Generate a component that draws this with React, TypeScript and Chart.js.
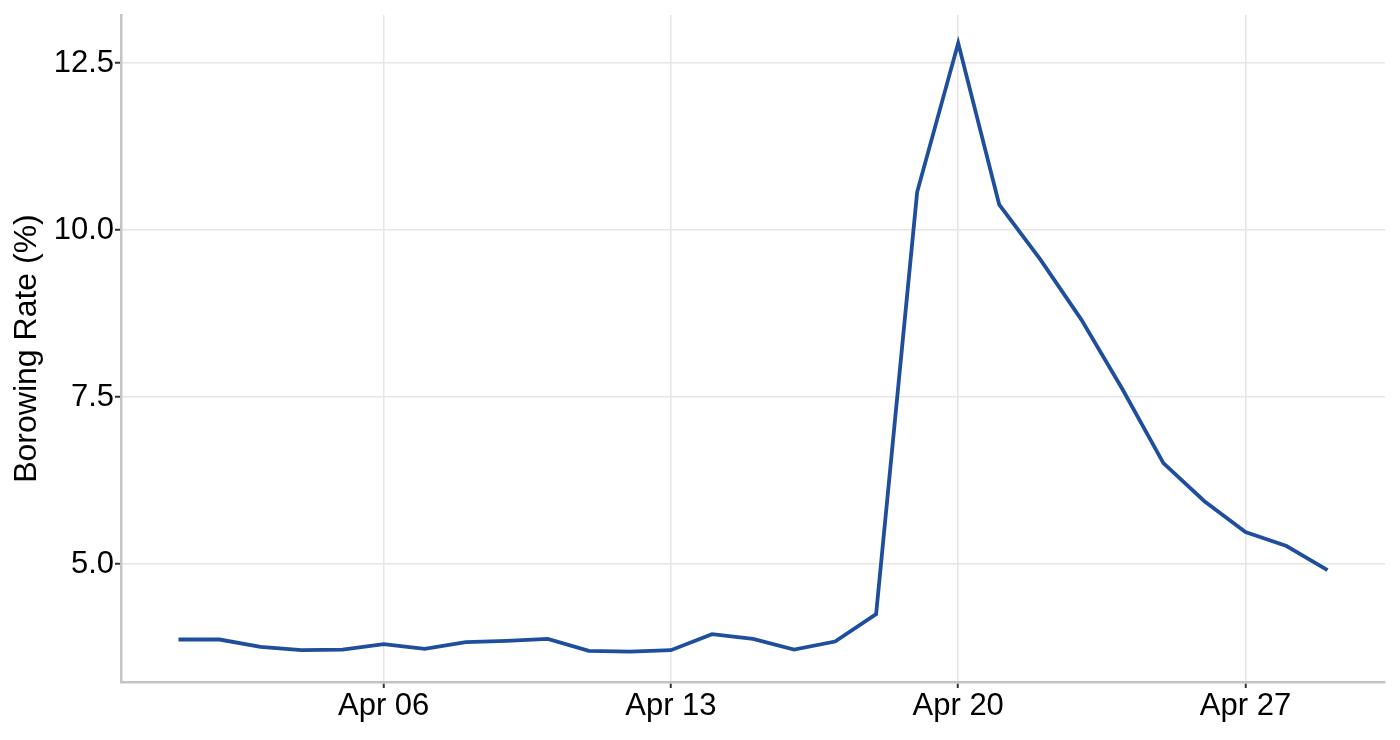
import { useEffect, useRef } from "react";
import Chart from "chart.js/auto";

// Day of month (April) for each observation
const DAYS = [1, 2, 3, 4, 5, 6, 7, 8, 9, 10, 11, 12, 13, 14, 15, 16, 17, 18, 19, 20, 21, 22, 23, 24, 25, 26, 27, 28, 29];
// Borrowing rate (%) per day
const RATES = [
  3.87, 3.87, 3.76, 3.71, 3.72, 3.8, 3.73, 3.83, 3.85, 3.88, 3.7, 3.69, 3.71, 3.95, 3.88, 3.72, 3.84, 4.25,
  10.57, 12.8, 10.38, 9.56, 8.66, 7.62, 6.51, 5.94, 5.48, 5.27, 4.91,
];
const X_TICKS = [6, 13, 20, 27];
const Y_TICKS = [5, 7.5, 10, 12.5];
const MONTH = "Apr";

const FONT = "'Liberation Sans', Arial, Helvetica, sans-serif";

export default function App() {
  const canvasRef = useRef<HTMLCanvasElement | null>(null);

  useEffect(() => {
    const canvas = canvasRef.current;
    if (!canvas) return;

    const chart = new Chart(canvas, {
      type: "line",
      data: {
        datasets: [
          {
            label: "Borowing Rate (%)",
            data: DAYS.map((d, i) => ({ x: d, y: RATES[i] })),
            borderColor: "#1f4e9c",
            borderWidth: 3.8,
            pointRadius: 0,
            tension: 0,
            fill: false,
          },
        ],
      },
      options: {
        animation: false,
        responsive: true,
        maintainAspectRatio: false,
        layout: { padding: { top: 15, right: 15, bottom: 0, left: 0 } },
        plugins: { legend: { display: false }, tooltip: { enabled: false } },
        scales: {
          x: {
            type: "linear",
            min: -0.4,
            max: 30.4,
            afterBuildTicks: (scale) => {
              scale.ticks = X_TICKS.map((v) => ({ value: v }));
            },
            afterFit: (scale) => {
              scale.height = 58;
              scale.paddingLeft = 0;
              scale.paddingRight = 0;
            },
            ticks: {
              color: "#000",
              font: { family: FONT, size: 31 },
              padding: 0,
              maxRotation: 0,
              callback: (v) => `${MONTH} ${String(v).padStart(2, "0")}`,
            },
            grid: {
              color: "#e6e6e6",
              lineWidth: 1.5,
              tickColor: "#333",
              tickWidth: 2,
              tickLength: 6,
            },
            border: { color: "#c4c4c4", width: 2.5 },
          },
          y: {
            min: 3.234,
            max: 13.22,
            afterBuildTicks: (scale) => {
              scale.ticks = Y_TICKS.map((v) => ({ value: v }));
            },
            afterFit: (scale) => {
              scale.width = 121;
              scale.paddingTop = 0;
              scale.paddingBottom = 0;
            },
            ticks: {
              color: "#000",
              font: { family: FONT, size: 31 },
              padding: 1,
              callback: (v) => Number(v).toFixed(1),
            },
            grid: {
              color: "#e6e6e6",
              lineWidth: 1.5,
              tickColor: "#333",
              tickWidth: 2,
              tickLength: 6,
            },
            border: { color: "#c4c4c4", width: 2.5 },
            title: {
              display: true,
              text: "Borowing Rate (%)",
              color: "#000",
              font: { family: FONT, size: 32 },
              padding: { top: 8, bottom: 0 },
            },
          },
        },
      },
    });

    return () => chart.destroy();
  }, []);

  return (
    <div style={{ position: "absolute", left: 0, top: 0, width: 1400, height: 740, background: "#fff" }}>
      <canvas ref={canvasRef} />
    </div>
  );
}
